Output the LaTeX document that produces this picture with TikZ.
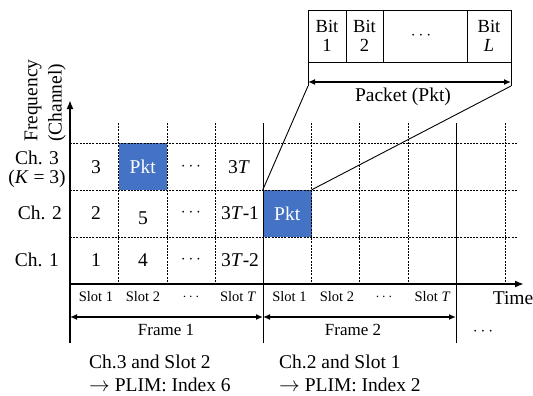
\documentclass[tikz,border=0pt]{standalone}
\usepackage{fontspec}
\setmainfont{Liberation Serif}
\usetikzlibrary{arrows.meta}
\definecolor{pktblue}{HTML}{4472C4}
\newcommand{\hdots}{{\fontsize{16}{18}\selectfont$\cdots$}}
\begin{document}
\begin{tikzpicture}[x=1pt,y=-1pt,
  big/.style={font=\fontsize{19.5}{23}\selectfont, inner sep=0},
  mid/.style={font=\fontsize{17}{20}\selectfont, inner sep=0},
  small/.style={font=\fontsize{14.5}{17}\selectfont, inner sep=0},
  pktbox/.style={fill=pktblue, text=white, draw=none, minimum width=48.5pt, minimum height=47pt, inner sep=0, font=\fontsize{19.5}{23}\selectfont},
  gridline/.style={dash pattern=on 2pt off 1.2pt, line width=0.9pt},
  solidline/.style={line width=0.9pt},
  axis/.style={line width=1.8pt, -{Latex[length=9pt,width=7pt]}},
  span/.style={line width=1.8pt, {Latex[length=7pt,width=6pt]}-{Latex[length=7pt,width=6pt]}}
]
\useasboundingbox (0,0) rectangle (533,396);

% packet cells (blue)
\node[pktbox] (pkt1) at (142.75,166.5) {Pkt};
\node[pktbox] (pkt2) at (287.25,213.5) {Pkt};

% grid dashed lines
\foreach \y in {143,190,237} \draw[gridline] (70,\y) -- (517,\y);
\foreach \x in {118.5,167,215,311.5,359.5,408,505} \draw[gridline] (\x,123) -- (\x,284);
% frame boundaries
\foreach \x in {263,456} \draw[solidline] (\x,123) -- (\x,343);

% axes
\coordinate (ybot) at (70,343);
\coordinate (ytop) at (70,100);
\coordinate (xleft) at (70,284);
\coordinate (xright) at (524,284);
\draw[axis] (ybot) -- (ytop);
\draw[axis] (xleft) -- (xright);

% axis labels
\node[big, rotate=90, anchor=west] (freq) at (33,142) {Frequency};
\node[big, rotate=90, anchor=west] (chan) at (57,142) {(Channel)};
\node[big] (time) at (513,298) {Time};

% channel labels
\node[big, align=center, font=\fontsize{19.5}{19}\selectfont] (ch3) at (37,169) {Ch. 3\\(\textit{K} = 3)};
\node[big, anchor=east] (ch2) at (62,213) {Ch. 2};
\node[big, anchor=east] (ch1) at (59,260) {Ch. 1};

% cell contents
\node[big] (c3a) at (96,167) {3};
\node[big] (c3c) at (191,167) {\hdots};
\node[big] (c3d) at (239,167) {3\textit{T}};
\node[big] (c2a) at (96,213) {2};
\node[big] (c2b) at (143,218) {5};
\node[big] (c2c) at (191,213) {\hdots};
\node[big] (c2d) at (240,213) {3\textit{T}-1};
\node[big] (c1a) at (96,260) {1};
\node[big] (c1b) at (143,260) {4};
\node[big] (c1c) at (191,260) {\hdots};
\node[big] (c1d) at (240,260) {3\textit{T}-2};

% slot labels
\node[small] (s11) at (96,297) {Slot 1};
\node[small] (s12) at (143,297) {Slot 2};
\node[small] (s13) at (191,297) {$\cdots$};
\node[small] (s14) at (238,297) {Slot \textit{T}};
\node[small] (s21) at (289.5,297) {Slot 1};
\node[small] (s22) at (337,297) {Slot 2};
\node[small] (s23) at (384,297) {$\cdots$};
\node[small] (s24) at (432.5,297) {Slot \textit{T}};

% frame spans
\coordinate (f0) at (70,317);
\coordinate (f1) at (263,317);
\coordinate (f2) at (456,317);
\draw[span] (f0) -- (f1);
\draw[span] (f1) -- (f2);
\node[mid] (fr1) at (166,330) {Frame 1};
\node[mid] (fr2) at (353,330) {Frame 2};
\node[mid] (fr3) at (483,332) {$\cdots$};

% bottom notes
\node[big, anchor=west, align=left] (note1) at (89,373) {Ch.3 and Slot 2\\$\rightarrow$ PLIM: Index 6};
\node[big, anchor=west, align=left] (note2) at (279,373) {Ch.2 and Slot 1\\$\rightarrow$ PLIM: Index 2};

% packet structure
\draw[solidline] (308,10) rectangle (511,62);
\foreach \x in {346,383,467} \draw[solidline] (\x,10) -- (\x,62);
\coordinate (pbl) at (308,86);
\coordinate (pbr) at (511,86);
\draw[solidline] (308,62) -- (pbl);
\draw[solidline] (511,62) -- (pbr);
\coordinate (pal) at (308,82);
\coordinate (par) at (511,82);
\draw[span] (pal) -- (par);
\node[big, align=center, font=\fontsize{18.5}{19}\selectfont] (b1) at (327,36) {Bit\\1};
\node[big, align=center, font=\fontsize{18.5}{19}\selectfont] (b2) at (364.5,36) {Bit\\2};
\node[big] (bd) at (421,36) {\hdots};
\node[big, align=center, font=\fontsize{18.5}{19}\selectfont] (bl) at (489,36) {Bit\\\textit{L}};
\node[big] (pktlabel) at (403,97) {Packet (Pkt)};

% zoom lines
\draw[solidline] (pbl) -- (pkt2.north west);
\draw[solidline] (pbr) -- (pkt2.north east);
\end{tikzpicture}
\end{document}
